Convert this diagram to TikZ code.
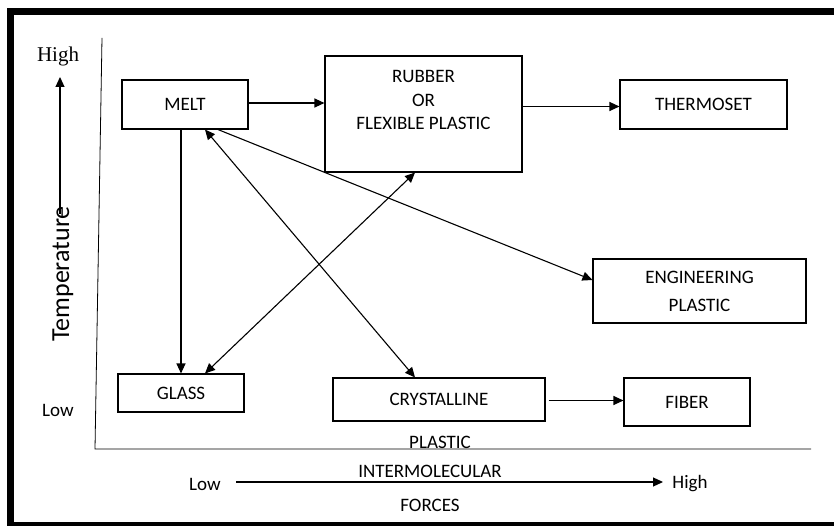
\documentclass[tikz,border=0pt]{standalone}
\usepackage{fontspec}
\setmainfont{Carlito}
\newfontfamily\serifhigh{Liberation Serif}
\usetikzlibrary{arrows.meta}

\tikzset{
    box/.style={draw, line width=1.1pt, inner sep=0pt, font=\fontsize{19}{23}\selectfont},
    link/.style={line width=1.1pt, -{Triangle[length=10pt,width=9pt]}},
    twolink/.style={line width=1.1pt, {Triangle[length=10pt,width=9pt]}-{Triangle[length=10pt,width=9pt]}},
    lbl/.style={inner sep=0pt, font=\fontsize{19}{23}\selectfont}
}

\begin{document}
\begin{tikzpicture}[x=1pt,y=-1pt]
    \useasboundingbox (0,0) rectangle (834,526);
    % Frame
    \draw[line width=7pt] (845,525) -- (10.5,525) -- (10.5,11.5) -- (845,11.5);

    % Axes
    \draw[line width=0.8pt] (102,38) -- (95,449) -- (811,449);

    % Temperature axis
    \node[font=\fontsize{21}{25}\serifhigh, inner sep=0pt] (thigh) at (58,56) {High};
    \node[lbl] (tlow) at (58,410) {Low};
    \node[font=\fontsize{26}{30}\selectfont, rotate=90, inner sep=0pt] (temp) at (63,274) {Temperature};
    \coordinate (tbot) at (60,214);
    \coordinate (ttop) at (60,77);
    \draw[link] (tbot) -- (ttop);

    % Forces axis
    \node[lbl] (flow) at (205,484) {Low};
    \node[lbl] (fhigh) at (690,484) {High};
    \coordinate (fleft) at (236,482);
    \coordinate (fright) at (663,482);
    \draw[link] (fleft) -- (fright);
    \node[lbl] (inter) at (430,471) {INTERMOLECULAR};
    \node[lbl] (forces) at (430,505) {FORCES};

    % States
    \node[box, minimum width=126pt, minimum height=49pt] (melt) at (185,104.5) {MELT};
    \node[box, minimum width=197pt, minimum height=116pt] (rubber) at (423.5,114) {};
    \node[lbl, align=center] (rubbertxt) at (423.5,100) {RUBBER\\[0.5pt]OR\\[0.5pt]FLEXIBLE PLASTIC};
    \node[box, minimum width=167pt, minimum height=49pt] (thermoset) at (703.5,104.5) {THERMOSET};
    \node[box, minimum width=213pt, minimum height=64pt, align=center] (engineering) at (699.5,291) {ENGINEERING\\[5pt]PLASTIC};
    \node[box, minimum width=126pt, minimum height=38pt] (glass) at (181,393) {GLASS};
    \node[box, minimum width=212pt, minimum height=43pt] (crystalline) at (439,399.5) {CRYSTALLINE};
    \node[lbl] (crysplastic) at (440,442) {PLASTIC};
    \node[box, minimum width=126pt, minimum height=48pt] (fiber) at (687,402) {FIBER};

    % Transitions
    \draw[link] ([yshift=1.5pt]melt.east) -- ([yshift=1.5pt]melt.east -| rubber.west);
    \draw[link] ([yshift=-2pt]thermoset.west -| rubber.east) -- ([yshift=-2pt]thermoset.west);
    \draw[link] (melt.south -| glass.north) -- (glass.north);
    \draw[twolink] ([xshift=20pt]melt.south) -- ([xshift=-24pt]crystalline.north);
    \draw[twolink] ([xshift=24pt]glass.north) -- ([xshift=-8.5pt]rubber.south);
    \draw[link] ([xshift=33pt]melt.south) -- ([yshift=11pt]engineering.west);
    \draw[link] ([xshift=3pt,yshift=-1pt]crystalline.east) -- ([yshift=-1pt]crystalline.east -| fiber.west);
\end{tikzpicture}
\end{document}
